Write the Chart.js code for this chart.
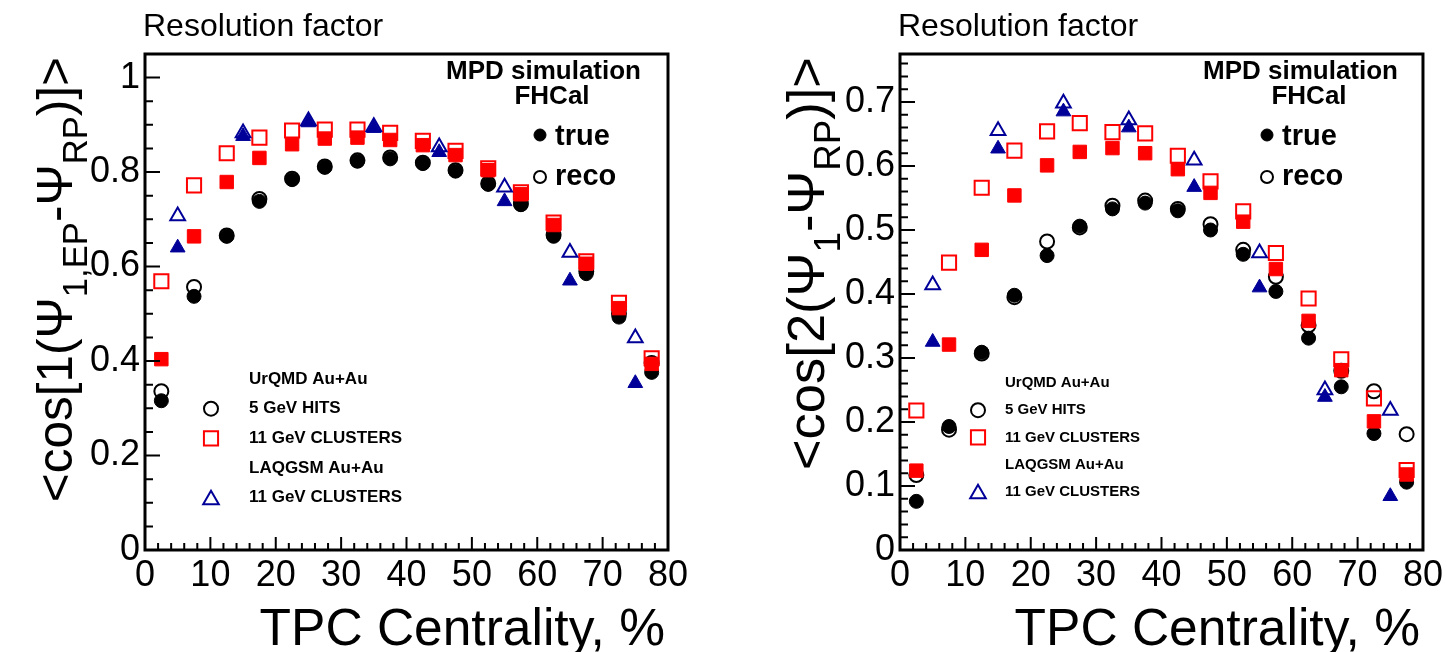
<!DOCTYPE html>
<html>
<head>
<meta charset="utf-8">
<script src="https://cdn.jsdelivr.net/npm/chart.js@4.4.1/dist/chart.umd.min.js"></script>
<style>
  body { margin: 0; background: #fff; width: 1447px; height: 652px; overflow: hidden; position: relative; }
  canvas { position: absolute; top: 0; }
</style>
</head>
<body>
<canvas id="left" width="723" height="652" style="left:0px"></canvas>
<canvas id="right" width="724" height="652" style="left:723px"></canvas>
<script>
// centrality bins
const centrality = [2.5, 7.5, 12.5, 17.5, 22.5, 27.5, 32.5, 37.5, 42.5, 47.5, 52.5, 57.5, 62.5, 67.5, 72.5, 77.5];
const centralityLaqgsm = [5, 15, 25, 35, 45, 55, 65, 75];

// <cos[1(Psi_1,EP - Psi_RP)]>
const res1HitsTrue = [0.316, 0.537, 0.664, 0.738, 0.784, 0.810, 0.823, 0.828, 0.818, 0.802, 0.774, 0.731, 0.664, 0.585, 0.493, 0.376];
const res1HitsReco = [0.336, 0.557, 0.666, 0.743, 0.786, 0.812, 0.825, 0.831, 0.820, 0.804, 0.776, 0.733, 0.667, 0.590, 0.500, 0.396];
const res1ClustTrue = [0.404, 0.664, 0.779, 0.830, 0.859, 0.871, 0.873, 0.868, 0.857, 0.836, 0.804, 0.753, 0.688, 0.606, 0.512, 0.394];
const res1ClustReco = [0.569, 0.772, 0.840, 0.873, 0.888, 0.890, 0.890, 0.883, 0.866, 0.845, 0.808, 0.757, 0.693, 0.611, 0.523, 0.406];
const res1LaqTrue = [0.640, 0.876, 0.905, 0.893, 0.842, 0.738, 0.570, 0.353];
const res1LaqReco = [0.707, 0.883, 0.908, 0.896, 0.853, 0.768, 0.630, 0.449];

// <cos[2(Psi_1 - Psi_RP)]>
const res2HitsTrue = [0.076, 0.193, 0.309, 0.398, 0.460, 0.506, 0.533, 0.542, 0.530, 0.500, 0.462, 0.404, 0.331, 0.255, 0.182, 0.106];
const res2HitsReco = [0.117, 0.188, 0.307, 0.395, 0.482, 0.504, 0.538, 0.546, 0.533, 0.509, 0.469, 0.427, 0.351, 0.280, 0.248, 0.181];
const res2ClustTrue = [0.124, 0.321, 0.469, 0.554, 0.601, 0.622, 0.628, 0.620, 0.595, 0.558, 0.513, 0.439, 0.358, 0.281, 0.201, 0.118];
const res2ClustReco = [0.218, 0.449, 0.566, 0.624, 0.654, 0.667, 0.653, 0.651, 0.616, 0.576, 0.529, 0.464, 0.393, 0.298, 0.237, 0.125];
const res2LaqTrue = [0.325, 0.627, 0.685, 0.660, 0.567, 0.410, 0.239, 0.084];
const res2LaqReco = [0.414, 0.655, 0.698, 0.672, 0.609, 0.464, 0.250, 0.218];

const legendRows = ['UrQMD Au+Au', '5 GeV HITS', '11 GeV CLUSTERS', 'LAQGSM Au+Au', '11 GeV CLUSTERS'];

const FONT = "'Liberation Sans', Arial, Helvetica, sans-serif";
const RED = '#ff0000';
const BLUE = '#000099';
const BLACK = '#000000';

function series(xs, ys, style, color, filled, radius, order) {
    return {
        data: xs.map((x, i) => ({x: x, y: ys[i]})),
        pointStyle: style,
        pointRadius: radius,
        pointHoverRadius: radius,
        backgroundColor: filled ? color : 'rgba(0,0,0,0)',
        borderColor: color,
        borderWidth: filled ? 1 : 2,
        order: order
    }
}

function text(ctx, str, x, y, size, bold, align) {
    ctx.font = (bold ? 'bold ' : '') + size + 'px ' + FONT;
    ctx.textAlign = align || 'left';
    ctx.fillStyle = '#000';
    ctx.fillText(str, x, y);
}

function marker(ctx, style, color, filled, radius, x, y) {
    ctx.fillStyle = filled ? color : 'rgba(0,0,0,0)';
    ctx.strokeStyle = color;
    ctx.lineWidth = filled ? 1 : 2;
    Chart.helpers.drawPoint(ctx, {pointStyle: style, radius: radius, rotation: 0, borderWidth: ctx.lineWidth}, x, y);
}

// rotated y title with subscripts, ending at yTop
function richTitle(ctx, parts, x, yTop, size) {
    let total = 0;
    const widths = parts.map(p => {
        ctx.font = (p[1] ? size * 0.7 : size) + 'px ' + FONT;
        const w = ctx.measureText(p[0]).width;
        total += w;
        return w;
    });
    ctx.save();
    ctx.translate(x, yTop);
    ctx.rotate(-Math.PI / 2);
    ctx.fillStyle = '#000';
    ctx.textAlign = 'left';
    ctx.textBaseline = 'alphabetic';
    let pos = -total;
    parts.forEach((p, i) => {
        ctx.font = (p[1] ? size * 0.7 : size) + 'px ' + FONT;
        ctx.fillText(p[0], pos, p[1] ? size * 0.3 : 0);
        pos += widths[i];
    });
    ctx.restore();
}

const rootDecor = {
    id: 'rootDecor',
    afterDraw(chart, args, o) {
        const {ctx, chartArea: a, scales: {x, y}} = chart;
        ctx.save();
        // frame
        ctx.strokeStyle = '#000';
        ctx.lineWidth = 3;
        ctx.strokeRect(a.left, a.top, a.right - a.left, a.bottom - a.top);
        // inner ticks
        ctx.lineWidth = 2;
        ctx.beginPath();
        for (let v = 0; v <= 80; v += 2) {
            const px = x.getPixelForValue(v);
            const len = v % 10 === 0 ? 13 : 7;
            ctx.moveTo(px, a.bottom);
            ctx.lineTo(px, a.bottom - len);
        }
        const n = Math.floor(o.yMax / o.yMinor + 1e-6);
        for (let i = 0; i <= n; i++) {
            const v = i * o.yMinor;
            const r = v / o.yStep;
            const len = Math.abs(r - Math.round(r)) < 1e-6 ? 15 : 8;
            const py = y.getPixelForValue(v);
            ctx.moveTo(a.left, py);
            ctx.lineTo(a.left + len, py);
        }
        ctx.stroke();

        // titles
        ctx.textBaseline = 'alphabetic';
        text(ctx, 'Resolution factor', a.left - 2, 36, 32, false, 'left');
        text(ctx, 'TPC Centrality, %', a.right - 3, 645, 51.5, false, 'right');
        richTitle(ctx, o.yTitle, o.yTitleX, 57, o.yTitleSize);

        // top right label
        ctx.textBaseline = 'middle';
        text(ctx, 'MPD simulation', o.mpdRight, 72, 26, true, 'right');
        text(ctx, 'FHCal', o.mpdRight - 89, 97, 26, true, 'center');
        marker(ctx, 'circle', BLACK, true, 6, o.trueX, 135);
        marker(ctx, 'circle', BLACK, false, 6, o.trueX, 177);
        text(ctx, 'true', o.trueX + 15, 137, 29, true, 'left');
        text(ctx, 'reco', o.trueX + 15, 177, 29, true, 'left');

        // lower legend
        const L = o.legend;
        legendRows.forEach((s, i) => {
            text(ctx, s, L.textX, L.top + i * L.step, L.size, true, 'left');
        });
        marker(ctx, 'circle', BLACK, false, 7, L.markX, L.top + L.step);
        marker(ctx, 'rect', RED, false, 10, L.markX, L.top + 2 * L.step);
        marker(ctx, 'triangle', BLUE, false, 9, L.markX, L.top + 4 * L.step + 2);
        ctx.restore();
    }
};

function makePanel(canvas, p) {
    const datasets = [
        series(centrality, p.hitsReco, 'circle', BLACK, false, 7, 6),
        series(centrality, p.hitsTrue, 'circle', BLACK, true, 7, 5),
        series(centrality, p.clustReco, 'rect', RED, false, 10, 4),
        series(centrality, p.clustTrue, 'rect', RED, true, 9.5, 3),
        series(centralityLaqgsm, p.laqReco, 'triangle', BLUE, false, 8.5, 2),
        series(centralityLaqgsm, p.laqTrue, 'triangle', BLUE, true, 8.5, 1)
    ];
    const tickFont = {family: FONT, size: 36};
    const config = {
        type: 'scatter',
        data: {datasets: datasets},
        options: {
            responsive: false,
            animation: false,
            devicePixelRatio: 1,
            layout: {padding: {top: 54, right: p.padRight, left: 0, bottom: 0}},
            scales: {
                x: {
                    type: 'linear',
                    min: 0,
                    max: 80,
                    afterFit: s => { s.height = 102 },
                    grid: {display: false, drawTicks: false},
                    border: {display: false},
                    ticks: {stepSize: 10, padding: 4, color: '#000', font: tickFont, maxRotation: 0, autoSkip: false}
                },
                y: {
                    type: 'linear',
                    min: 0,
                    max: p.yMax,
                    afterFit: s => { s.width = p.plotLeft },
                    afterBuildTicks: s => {
                        const ticks = [];
                        const n = Math.floor(p.yMax / p.yStep + 1e-6);
                        for (let i = 0; i <= n; i++) {
                            ticks.push({value: parseFloat((i * p.yStep).toFixed(3))});
                        }
                        s.ticks = ticks;
                    },
                    grid: {display: false, drawTicks: false},
                    border: {display: false},
                    ticks: {
                        stepSize: p.yStep,
                        padding: 5,
                        color: '#000',
                        font: tickFont,
                        autoSkip: false,
                        callback: v => String(parseFloat(Number(v).toFixed(3)))
                    }
                }
            },
            plugins: {
                legend: {display: false},
                tooltip: {enabled: false},
                rootDecor: {
                    yMax: p.yMax,
                    yStep: p.yStep,
                    yMinor: p.yMinor,
                    yTitle: p.yTitle,
                    yTitleX: p.yTitleX,
                    yTitleSize: p.yTitleSize,
                    mpdRight: p.mpdRight,
                    trueX: p.trueX,
                    legend: p.legend
                }
            }
        },
        plugins: [rootDecor]
    };
    return new Chart(canvas, config);
}

makePanel(document.getElementById('left'), {
    hitsTrue: res1HitsTrue, hitsReco: res1HitsReco,
    clustTrue: res1ClustTrue, clustReco: res1ClustReco,
    laqTrue: res1LaqTrue, laqReco: res1LaqReco,
    yMax: 1.05, yStep: 0.2, yMinor: 0.05,
    plotLeft: 145, padRight: 55,
    yTitle: [['<cos[1(Ψ', 0], ['1,EP', 1], ['-Ψ', 0], ['RP', 1], [')]>', 0]],
    yTitleX: 72, yTitleSize: 49.5,
    mpdRight: 641, trueX: 540,
    legend: {textX: 249, markX: 211, top: 379, step: 29.7, size: 17}
});

makePanel(document.getElementById('right'), {
    hitsTrue: res2HitsTrue, hitsReco: res2HitsReco,
    clustTrue: res2ClustTrue, clustReco: res2ClustReco,
    laqTrue: res2LaqTrue, laqReco: res2LaqReco,
    yMax: 0.775, yStep: 0.1, yMinor: 0.02,
    plotLeft: 177, padRight: 23,
    yTitle: [['<cos[2(Ψ', 0], ['1', 1], ['-Ψ', 0], ['RP', 1], [')]>', 0]],
    yTitleX: 101, yTitleSize: 52.5,
    mpdRight: 675, trueX: 544,
    legend: {textX: 282, markX: 255, top: 383, step: 27.2, size: 15}
});
</script>
</body>
</html>
